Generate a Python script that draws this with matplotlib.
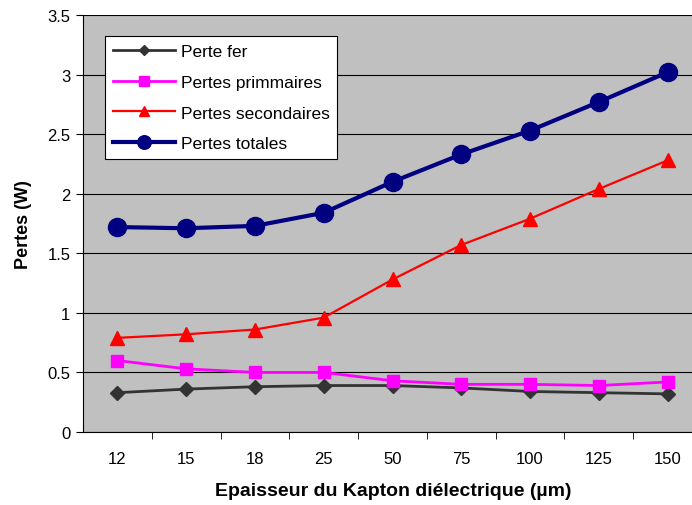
import matplotlib
matplotlib.use("Agg")
import matplotlib.pyplot as plt

categories = ["12", "15", "18", "25", "50", "75", "100", "125", "150"]
perte_fer = [0.33, 0.36, 0.38, 0.39, 0.39, 0.37, 0.34, 0.33, 0.32]
pertes_primaires = [0.60, 0.53, 0.50, 0.50, 0.43, 0.40, 0.40, 0.39, 0.42]
pertes_secondaires = [0.79, 0.82, 0.86, 0.96, 1.28, 1.57, 1.79, 2.04, 2.28]
pertes_totales = [1.72, 1.71, 1.73, 1.84, 2.10, 2.33, 2.53, 2.77, 3.02]
y_ticks = [0, 0.5, 1, 1.5, 2, 2.5, 3, 3.5]
y_tick_labels = ["0", "0.5", "1", "1.5", "2", "2.5", "3", "3.5"]

plt.rcParams['font.family'] = ['Liberation Sans', 'DejaVu Sans']

fig = plt.figure(figsize=(6.92, 5.06), dpi=100)
ax = fig.add_axes([83/692, 73/506, 619/692, 417/506])
ax.set_facecolor('#C0C0C0')

x = list(range(len(categories)))
ax.plot(x, perte_fer, color='#333333', lw=2, marker='D', ms=7, label='Perte fer', zorder=3)
ax.plot(x, pertes_primaires, color='#FF00FF', lw=2, marker='s', ms=9, label='Pertes primmaires', zorder=3)
ax.plot(x, pertes_secondaires, color='#FF0000', lw=1.6, marker='^', ms=10, label='Pertes secondaires', zorder=3)
ax.plot(x, pertes_totales, color='#000080', lw=3, marker='o', ms=13, label='Pertes totales', zorder=4)

ax.set_xlim(-0.5, len(categories) - 0.5)
ax.set_ylim(0, 3.5)
ax.set_yticks(y_ticks)
ax.set_yticklabels(y_tick_labels)
ax.set_xticks(x)
ax.set_xticklabels(categories)
ax.set_xticks([i + 0.5 for i in range(len(categories) - 1)], minor=True)
ax.tick_params(axis='x', which='major', length=0, pad=14, labelsize=12)
ax.tick_params(axis='x', which='minor', length=5, direction='out', color='black')
ax.tick_params(axis='y', length=5, direction='out', pad=4, labelsize=12)
ax.yaxis.grid(True, color='#000000', lw=0.8)
ax.set_axisbelow(True)
for s in ['top', 'right']:
    ax.spines[s].set_visible(False)
ax.spines['left'].set_color('black')
ax.spines['bottom'].set_color('black')

ax.set_ylabel('Pertes (W)', fontsize=13, fontweight='bold', va='center')
ax.yaxis.set_label_coords(-(83 - 24) / 619, 0.5)
ax.set_xlabel('Epaisseur du Kapton diélectrique (µm)', fontsize=14, fontweight='bold', va='center')
ax.xaxis.set_label_coords((393 - 83) / 619, -(492 - 433) / 417)

leg = ax.legend(loc='upper left', bbox_to_anchor=(22/619, (433-37)/417), borderaxespad=0,
                fancybox=False, edgecolor='black', framealpha=1, fontsize=12.5,
                handlelength=3.6, handletextpad=0.3, borderpad=0.45, labelspacing=0.9,
                markerscale=0.75)
leg.get_frame().set_linewidth(0.8)

fig.savefig('out.png', dpi=100)
